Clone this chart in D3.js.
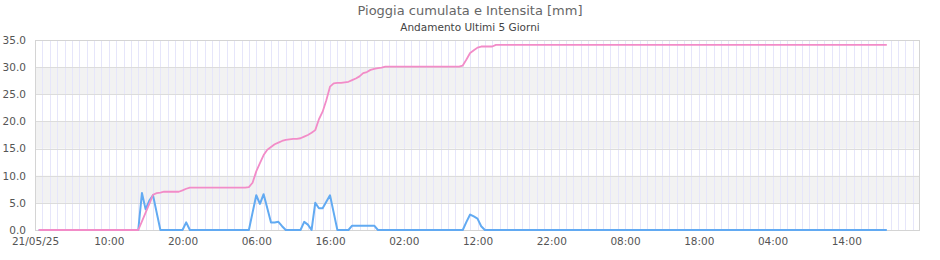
<!DOCTYPE html>
<html>
<head>
<meta charset="utf-8">
<script src="https://cdn.jsdelivr.net/npm/d3@7"></script>
<style>
  body { margin: 0; background: #fff; }
  text { font-family: "DejaVu Sans", sans-serif; }
</style>
</head>
<body>
<div id="wrapper"></div>
<script>
// readings every 30 minutes, first one at 21/05/25 00:30
const firstReading = new Date(2025, 4, 21, 0, 30);
const stepMinutes = 30;

// intensita [mm]
const intensity = [
  0,0,0,0,0,0,0,0,0,0,0,0,0,0,0,0,0,0,0,0,0,0,0,0,
  0,0,0,0,6.8,3.8,5.4,6.4,3.2,0,0,0,0,0,0,0,1.4,0,0,0,0,0,0,0,
  0,0,0,0,0,0,0,0,0,0,3.2,6.4,4.8,6.6,4.0,1.4,1.4,1.5,0.7,0,0,0,0,0,
  1.5,1.0,0,5.0,4.0,4.0,5.2,6.4,3.2,0,0,0,0,0.8,0.8,0.8,0.8,0.8,0.8,0.8,0,0,0,0,
  0,0,0,0,0,0,0,0,0,0,0,0,0,0,0,0,0,0,0,0,1.5,2.85,2.5,2.1,
  0.7,0,0,0,0,0,0,0,0,0,0,0,0,0,0,0,0,0,0,0,0,0,0,0,
  0,0,0,0,0,0,0,0,0,0,0,0,0,0,0,0,0,0,0,0,0,0,0,0,
  0,0,0,0,0,0,0,0,0,0,0,0,0,0,0,0,0,0,0,0,0,0,0,0,
  0,0,0,0,0,0,0,0,0,0,0,0,0,0,0,0,0,0,0,0,0,0,0,0,
  0,0,0,0,0,0,0,0,0,0,0,0,0,0,0
];

// pioggia cumulata [mm]
const cumulative = [
  0,0,0,0,0,0,0,0,0,0,0,0,0,0,0,0,0,0,0,0,0,0,0,0,
  0,0,0,0,1.6,3.2,4.8,6.5,6.8,6.9,7.05,7.05,7.05,7.05,7.05,7.3,7.6,7.8,7.8,7.8,7.8,7.8,7.8,7.8,
  7.8,7.8,7.8,7.8,7.8,7.8,7.8,7.8,7.8,7.9,8.7,10.8,12.3,13.8,14.8,15.3,15.8,16.1,16.4,16.6,16.7,16.8,16.8,16.9,
  17.2,17.5,17.9,18.4,20.4,21.8,23.9,26.4,27.0,27.1,27.1,27.2,27.3,27.6,27.9,28.3,28.9,29.1,29.5,29.7,29.8,29.9,30.1,30.1,
  30.1,30.1,30.1,30.1,30.1,30.1,30.1,30.1,30.1,30.1,30.1,30.1,30.1,30.1,30.1,30.1,30.1,30.1,30.1,30.3,31.4,32.6,33.1,33.6,
  33.8,33.8,33.8,33.8,34.1,34.1,34.1,34.1,34.1,34.1,34.1,34.1,34.1,34.1,34.1,34.1,34.1,34.1,34.1,34.1,34.1,34.1,34.1,34.1,
  34.1,34.1,34.1,34.1,34.1,34.1,34.1,34.1,34.1,34.1,34.1,34.1,34.1,34.1,34.1,34.1,34.1,34.1,34.1,34.1,34.1,34.1,34.1,34.1,
  34.1,34.1,34.1,34.1,34.1,34.1,34.1,34.1,34.1,34.1,34.1,34.1,34.1,34.1,34.1,34.1,34.1,34.1,34.1,34.1,34.1,34.1,34.1,34.1,
  34.1,34.1,34.1,34.1,34.1,34.1,34.1,34.1,34.1,34.1,34.1,34.1,34.1,34.1,34.1,34.1,34.1,34.1,34.1,34.1,34.1,34.1,34.1,34.1,
  34.1,34.1,34.1,34.1,34.1,34.1,34.1,34.1,34.1,34.1,34.1,34.1,34.1,34.1,34.1
];

const xTickLabels = ["21/05/25","10:00","20:00","06:00","16:00","02:00","12:00","22:00","08:00","18:00","04:00","14:00"];
const xTickHours = 10;
const yTicks = [0, 5, 10, 15, 20, 25, 30, 35];

const chartTitle = "Pioggia cumulata e Intensita [mm]";
const chartSubtitle = "Andamento Ultimi 5 Giorni";

function buildPlot() {
    const dimension = {
        width: 940,
        height: 260,
        margin: { top: 40, left: 35, bottom: 30, right: 20 }
    };
    dimension.boundedWidth = dimension.width - dimension.margin.left - dimension.margin.right;
    dimension.boundedHeight = dimension.height - dimension.margin.top - dimension.margin.bottom;

    const startDate = new Date(2025, 4, 21, 0, 0);
    const endDate = d3.timeDay.offset(startDate, 5);

    const timeAccessor = (d, i) => d3.timeMinute.offset(firstReading, i * stepMinutes);

    const svg = d3.select("#wrapper").append("svg")
        .attr("width", dimension.width)
        .attr("height", dimension.height);

    const bounded = svg.append("g")
        .attr("transform", `translate(${dimension.margin.left},${dimension.margin.top})`);

    const xScaler = d3.scaleTime()
        .domain([startDate, endDate])
        .range([0, dimension.boundedWidth]);

    const yScaler = d3.scaleLinear()
        .domain([0, 35])
        .range([dimension.boundedHeight, 0]);

    // alternating bands
    bounded.append("g").selectAll("rect")
        .data(yTicks.slice(0, -1).filter((d, i) => i % 2 === 1))
        .join("rect")
        .attr("x", 0)
        .attr("width", dimension.boundedWidth)
        .attr("y", d => yScaler(d + 5))
        .attr("height", d => yScaler(d) - yScaler(d + 5))
        .attr("fill", "#f2f2f2");

    // hourly vertical grid
    bounded.append("g").selectAll("line")
        .data(d3.timeHour.range(d3.timeHour.offset(startDate, 1), endDate))
        .join("line")
        .attr("x1", d => Math.round(xScaler(d)) + 0.5)
        .attr("x2", d => Math.round(xScaler(d)) + 0.5)
        .attr("y1", 0)
        .attr("y2", dimension.boundedHeight)
        .attr("stroke", "#e6e6fa")
        .attr("stroke-width", 1);

    // horizontal grid
    bounded.append("g").selectAll("line")
        .data(yTicks)
        .join("line")
        .attr("x1", 0)
        .attr("x2", dimension.boundedWidth)
        .attr("y1", d => Math.round(yScaler(d)) + 0.5)
        .attr("y2", d => Math.round(yScaler(d)) + 0.5)
        .attr("stroke", "#dcdcdc");

    // frame
    bounded.append("rect")
        .attr("x", 0.5)
        .attr("y", 0.5)
        .attr("width", dimension.boundedWidth - 1)
        .attr("height", dimension.boundedHeight)
        .attr("fill", "none")
        .attr("stroke", "#d4d4d4");

    // y axis labels
    const y_axis = d3.axisLeft(yScaler)
        .tickValues(yTicks)
        .tickFormat(d3.format(".1f"))
        .tickSize(0)
        .tickPadding(9);
    const yg = bounded.append("g").call(y_axis);
    yg.select(".domain").remove();
    yg.selectAll("text")
        .attr("fill", "#555")
        .style("font-size", "10.5px");

    // x axis labels
    const x_axis = d3.axisBottom(xScaler)
        .tickValues(xTickLabels.map((d, i) => d3.timeHour.offset(startDate, i * xTickHours)))
        .tickFormat((d, i) => xTickLabels[i])
        .tickSize(0)
        .tickPadding(8);
    const xg = bounded.append("g")
        .attr("transform", `translate(0,${dimension.boundedHeight})`)
        .call(x_axis);
    xg.select(".domain").remove();
    xg.selectAll("text")
        .attr("fill", "#555")
        .style("font-size", "10.5px");

    const seriesLine = d3.line()
        .x((d, i) => xScaler(timeAccessor(d, i)))
        .y(d => yScaler(d));

    bounded.append("path") // intensita
        .attr("d", seriesLine(intensity))
        .attr("fill", "none")
        .attr("stroke", "#62aaf2")
        .attr("stroke-width", 2)
        .attr("stroke-linejoin", "round");

    bounded.append("path") // cumulata
        .attr("d", seriesLine(cumulative))
        .attr("fill", "none")
        .attr("stroke", "#f28cc8")
        .attr("stroke-width", 1.8)
        .attr("stroke-linejoin", "round");

    svg.append("text")
        .attr("x", 470)
        .attr("y", 15)
        .attr("text-anchor", "middle")
        .attr("fill", "#666")
        .style("font-size", "13px")
        .text(chartTitle);

    svg.append("text")
        .attr("x", 470)
        .attr("y", 31)
        .attr("text-anchor", "middle")
        .attr("fill", "#444")
        .style("font-size", "10.5px")
        .text(chartSubtitle);
}

buildPlot();
</script>
</body>
</html>
